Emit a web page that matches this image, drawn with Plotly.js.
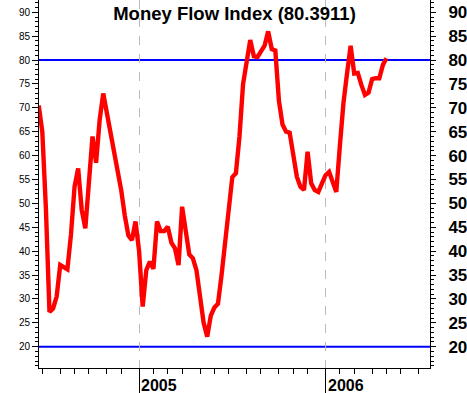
<!DOCTYPE html>
<html>
<head>
<meta charset="utf-8">
<script src="https://cdn.plot.ly/plotly-3.0.1.min.js"></script>
<style>html,body{margin:0;padding:0;background:#fff;}#chart{width:467px;height:393px;}</style>
</head>
<body>
<div id="chart"></div>
<script>
// Weekly (Friday) dates
var dates = [
"2004-06-25","2004-07-02","2004-07-09","2004-07-16","2004-07-23","2004-07-30",
"2004-08-06","2004-08-13","2004-08-20","2004-08-27","2004-09-03","2004-09-10",
"2004-09-17","2004-09-24","2004-10-01","2004-10-08","2004-10-15","2004-10-22",
"2004-10-29","2004-11-05","2004-11-12","2004-11-19","2004-11-26","2004-12-03",
"2004-12-10","2004-12-17","2004-12-24","2004-12-31",
"2005-01-07","2005-01-14","2005-01-21","2005-01-28","2005-02-04","2005-02-11",
"2005-02-18","2005-02-25","2005-03-04","2005-03-11","2005-03-18","2005-03-25",
"2005-04-01","2005-04-08","2005-04-15","2005-04-22","2005-04-29","2005-05-06",
"2005-05-13","2005-05-20","2005-05-27","2005-06-03","2005-06-10","2005-06-17",
"2005-06-24","2005-07-01","2005-07-08","2005-07-15","2005-07-22","2005-07-29",
"2005-08-05","2005-08-12","2005-08-19","2005-08-26","2005-09-02","2005-09-09",
"2005-09-16","2005-09-23","2005-09-30","2005-10-07","2005-10-14","2005-10-21",
"2005-10-28","2005-11-04","2005-11-11","2005-11-18","2005-11-25","2005-12-02",
"2005-12-09","2005-12-16","2005-12-23","2005-12-30",
"2006-01-06","2006-01-13","2006-01-20","2006-01-27","2006-02-03","2006-02-10",
"2006-02-17","2006-02-24","2006-03-03","2006-03-10","2006-03-17","2006-03-24",
"2006-03-31","2006-04-07","2006-04-14","2006-04-21","2006-04-28","2006-05-05"
];

// Money Flow Index values
var mfi = [
70.5, 65, 49, 27.3, 28, 30.5, 37.1, 36.6, 36.2, 43.5,
53.5, 57.3, 48.6, 44.8, 54.9, 64, 58.5, 67.5, 73, 69,
65, 61, 56.3, 52.8, 47.5, 43.3, 42.3, 46.2,
40, 28.4, 36, 37.8, 36.3, 46.2, 44.2, 44.2, 45.1, 41.8,
40.6, 37.1, 49.3, 44.5, 39.3, 38.5, 36, 30.5, 25, 22.1,
26.5, 28.2, 29, 35, 42, 50, 55.5, 56.3, 64, 75,
79.8, 84.2, 80.8, 80.6, 81.8, 83, 86, 82.3, 82, 71.5,
66.5, 65, 64.8, 60.5, 55.6, 53.5, 52.8, 60.8, 54.2, 52.8,
52.4, 54.2,
55.9, 56.6, 54.2, 52.4, 62, 71, 77.2, 83, 77.2, 77.3,
74.8, 72.7, 73.2, 76, 76.2, 76.2, 79, 80.3911
];

var levels = [80, 20];
var yearTicks = ["2005-01-07", "2006-01-06"];
var yearLabels = ["2005", "2006"];
var monthTicks = [
"2004-07-02","2004-08-06","2004-09-03","2004-10-01","2004-11-05","2004-12-03",
"2005-02-04","2005-03-04","2005-04-01","2005-05-06","2005-06-03","2005-07-01",
"2005-08-05","2005-09-02","2005-10-07","2005-11-04","2005-12-02",
"2006-02-03","2006-03-03","2006-04-07","2006-05-05","2006-06-02","2006-07-07"
];
var titleText = "Money Flow Index (80.3911)";

var yRange = [15.54, 92.57];
var xRange = ["2004-06-25 13:00", "2006-07-29 00:00"];
var FONT = "Arial, 'Liberation Sans', sans-serif";

var traces = [
  {x: dates, y: mfi, mode: "lines", line: {color: "#ff0000", width: 4.4},
   hoverinfo: "skip", showlegend: false, xaxis: "x", yaxis: "y"},
  {x: dates, y: mfi, mode: "lines", line: {color: "rgba(0,0,0,0)", width: 0},
   hoverinfo: "skip", showlegend: false, xaxis: "x", yaxis: "y2"}
];

var shapes = levels.map(function (v) {
  return {type: "line", xref: "paper", x0: 0, x1: 1, yref: "y", y0: v, y1: v,
          line: {color: "#0000ff", width: 2}, layer: "below"};
});

var annotations = yearLabels.map(function (t, i) {
  return {x: yearTicks[i], xref: "x", y: 0, yref: "paper", yanchor: "top", xanchor: "left",
          yshift: -7, xshift: 0, text: "<b>" + t + "</b>", showarrow: false,
          font: {family: FONT, size: 16, color: "#000"}};
});

var layout = {
  width: 467, height: 393,
  margin: {l: 39, r: 37, t: 0, b: 25, pad: 0},
  paper_bgcolor: "#ffffff", plot_bgcolor: "#ffffff",
  showlegend: false,
  title: {text: "<b>" + titleText + "</b>", font: {family: FONT, size: 18.5, color: "#000"},
          xref: "paper", x: 0.5, xanchor: "center", yref: "container", y: 0.982, yanchor: "top"},
  xaxis: {
    type: "date", range: xRange, fixedrange: true,
    tickmode: "array", tickvals: yearTicks, showticklabels: false,
    ticks: "outside", ticklen: 24, tickwidth: 1, tickcolor: "#000",
    showgrid: true, gridcolor: "#bbbbbb", griddash: "dash", gridwidth: 1,
    showline: true, linecolor: "#000", linewidth: 1, zeroline: false,
    minor: {tickmode: "array", tickvals: monthTicks, ticks: "outside", ticklen: 5,
            tickwidth: 1, tickcolor: "#000", showgrid: false}
  },
  yaxis: {
    range: yRange, side: "left", fixedrange: true,
    tickmode: "linear", tick0: 0, dtick: 5,
    ticks: "outside", ticklen: 6, tickwidth: 1, tickcolor: "#000",
    tickfont: {family: FONT, size: 10, color: "#000"},
    showline: true, linecolor: "#000", linewidth: 1,
    showgrid: false, zeroline: false,
    minor: {dtick: 1, tick0: 0, ticks: "outside", ticklen: 3, tickcolor: "#000", showgrid: false}
  },
  yaxis2: {
    range: yRange, side: "right", overlaying: "y", anchor: "x", fixedrange: true,
    tickmode: "linear", tick0: 0, dtick: 5,
    ticks: "outside", ticklen: 5, tickwidth: 1, tickcolor: "#000",
    tickfont: {family: FONT, size: 17, color: "#000", weight: "bold"},
    ticklabelstandoff: 9,
    showline: true, linecolor: "#000", linewidth: 1,
    showgrid: false, zeroline: false,
    minor: {dtick: 1, tick0: 0, ticks: "outside", ticklen: 3, tickcolor: "#000", showgrid: false}
  },
  shapes: shapes,
  annotations: annotations
};

Plotly.newPlot("chart", traces, layout, {displayModeBar: false, staticPlot: true});
</script>
</body>
</html>
